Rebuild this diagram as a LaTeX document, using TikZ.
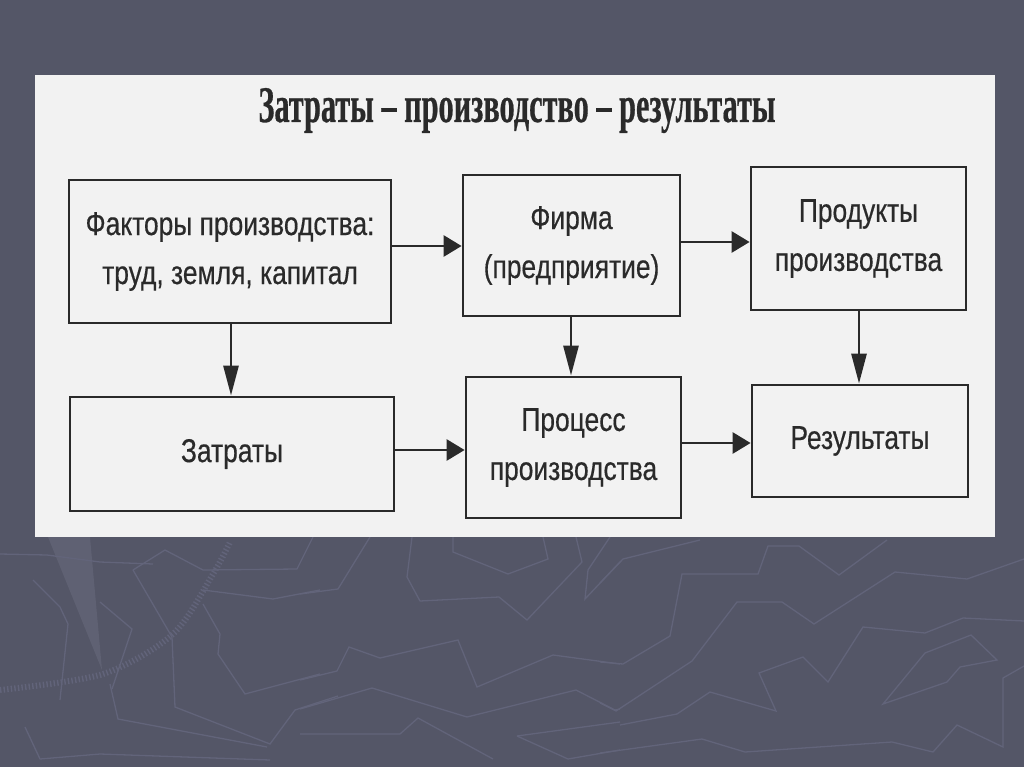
\documentclass[tikz,border=0pt]{standalone}
\usepackage{fontspec}
\setmainfont{Liberation Sans}
\newfontfamily\boxfont[FakeStretch=0.8,FakeBold=0.4]{Liberation Sans}
\newfontfamily\titlefont[FakeBold=0.6]{Liberation Serif}
\usetikzlibrary{arrows.meta}
\definecolor{bg}{HTML}{545667}
\definecolor{faint}{HTML}{62647A}
\definecolor{needle}{HTML}{5F6173}
\definecolor{paper}{HTML}{F2F2F2}
\definecolor{ink}{HTML}{2A2A2A}
\begin{document}
\begin{tikzpicture}[x=1pt,y=-1pt,
  box/.style={draw=ink, line width=2.8pt, fill=paper, inner sep=0pt, align=center,
    font=\boxfont\fontsize{33}{49}\selectfont, text=ink},
  harr/.style={draw=ink, line width=2.8pt, -{Triangle[length=18pt,width=21pt]}},
  varr/.style={draw=ink, line width=2.8pt, -{Triangle[length=30pt,width=15pt]}},
  deco/.style={draw=faint, line width=1.3pt}]
% background
\fill[bg] (0,0) rectangle (1024,767);
\useasboundingbox (0,0) rectangle (1024,767);
% faint background decoration
\fill[needle] (48,537) -- (90,537) -- (102,670) -- cycle;
\draw[faint, line width=6pt, dash pattern=on 1.4pt off 2.2pt] plot[smooth] coordinates {(0,690) (103,674) (173,634) (213,574) (230,542)};
\draw[deco] (0,554) -- (47,555) -- (100,562) -- (153,564);
\draw[deco] (133,570) -- (165,550) -- (203,570) -- (297,569) -- (313,537);
\draw[deco] (133,570) -- (172,637) -- (175,707) -- (270,744) -- (295,710) -- (338,696);
\draw[deco] (203,604) -- (220,634) -- (218,654) -- (245,694) -- (320,674);
\draw[deco] (203,590) -- (273,599) -- (320,590);
\draw[deco] (25,727) -- (40,759) -- (100,754) -- (270,760);
\draw[deco] (110,684) -- (118,719) -- (267,747);
\draw[deco] (33,580) -- (60,607) -- (68,624) -- (60,700);
\draw[deco] (100,602) -- (132,629) -- (112,689);
\draw[deco] (300,594) -- (338,589) -- (370,537);
\draw[deco] (412,537) -- (407,577) -- (420,601) -- (499,597) -- (527,620) -- (582,562) -- (576,537);
\draw[deco] (453,537) -- (453,552) -- (508,574) -- (548,559) -- (543,537);
\draw[deco] (610,537) -- (588,570) -- (585,599) -- (620,562);
\draw[deco] (300,680) -- (337,671) -- (349,647) -- (380,658) -- (458,640) -- (477,687) -- (553,655) -- (620,664);
\draw[deco] (300,709) -- (372,688) -- (467,717) -- (576,690) -- (615,710) -- (620,709);
\draw[deco] (300,734) -- (400,734) -- (418,718) -- (493,759);
\draw[deco] (517,736) -- (568,759) -- (620,750);
\draw[deco] (517,736) -- (620,722);
\draw[deco] (600,583) -- (623,559) -- (700,540);
\draw[deco] (600,662) -- (623,664) -- (670,636) -- (682,574) -- (758,574) -- (768,546) -- (799,546) -- (839,575) -- (887,540);
\draw[deco] (600,703) -- (616,711) -- (692,661) -- (737,602) -- (782,602) -- (814,624) -- (895,572) -- (967,579) -- (1024,559);
\draw[deco] (620,725) -- (677,714) -- (710,692) -- (776,711) -- (759,673) -- (803,657) -- (828,682) -- (863,627) -- (925,633) -- (963,618) -- (1024,621);
\draw[deco] (600,753) -- (702,739) -- (745,752) -- (892,742) -- (933,752) -- (957,725) -- (1003,747) -- (1003,678) -- (1024,666);
\draw[deco] (883,704) -- (925,653) -- (971,635) -- (997,660) -- (960,667) -- (947,682) -- cycle;
% panel
\fill[paper] (35,75) rectangle (995,537);
% title
\node[anchor=base, inner sep=0pt, text=ink] (title) at (517,122)
  {\resizebox{517pt}{34pt}{\titlefont\bfseries Затраты – производство – результаты}};
% boxes
\node[box, minimum width=322pt, minimum height=143pt] (f) at (230,251.5)
  {Факторы производства:\\труд, земля, капитал};
\node[box, minimum width=217pt, minimum height=141pt] (firm) at (571.5,245.5)
  {Фирма\\(предприятие)};
\node[box, minimum width=215pt, minimum height=143pt] (prod) at (858.5,238.5)
  {Продукты\\производства};
\node[box, minimum width=324pt, minimum height=114pt] (costs) at (232,454)
  {Затраты};
\node[box, minimum width=215pt, minimum height=141pt] (proc) at (573.5,447.5)
  {Процесс\\производства};
\node[box, minimum width=216pt, minimum height=112pt] (res) at (860,441)
  {Результаты};
% connectors
\draw[harr] (f.east |- 0,246) -- (firm.west |- 0,246);
\draw[harr] (firm.east |- 0,242) -- (prod.west |- 0,242);
\draw[varr] (f.south -| 231,0) -- (costs.north -| 231,0);
\draw[varr] (firm.south -| 571,0) -- (proc.north -| 571,0);
\draw[varr] (prod.south -| 859,0) -- (res.north -| 859,0);
\draw[harr] (costs.east |- 0,450) -- (proc.west |- 0,450);
\draw[harr] (proc.east |- 0,443) -- (res.west |- 0,443);
\end{tikzpicture}
\end{document}
